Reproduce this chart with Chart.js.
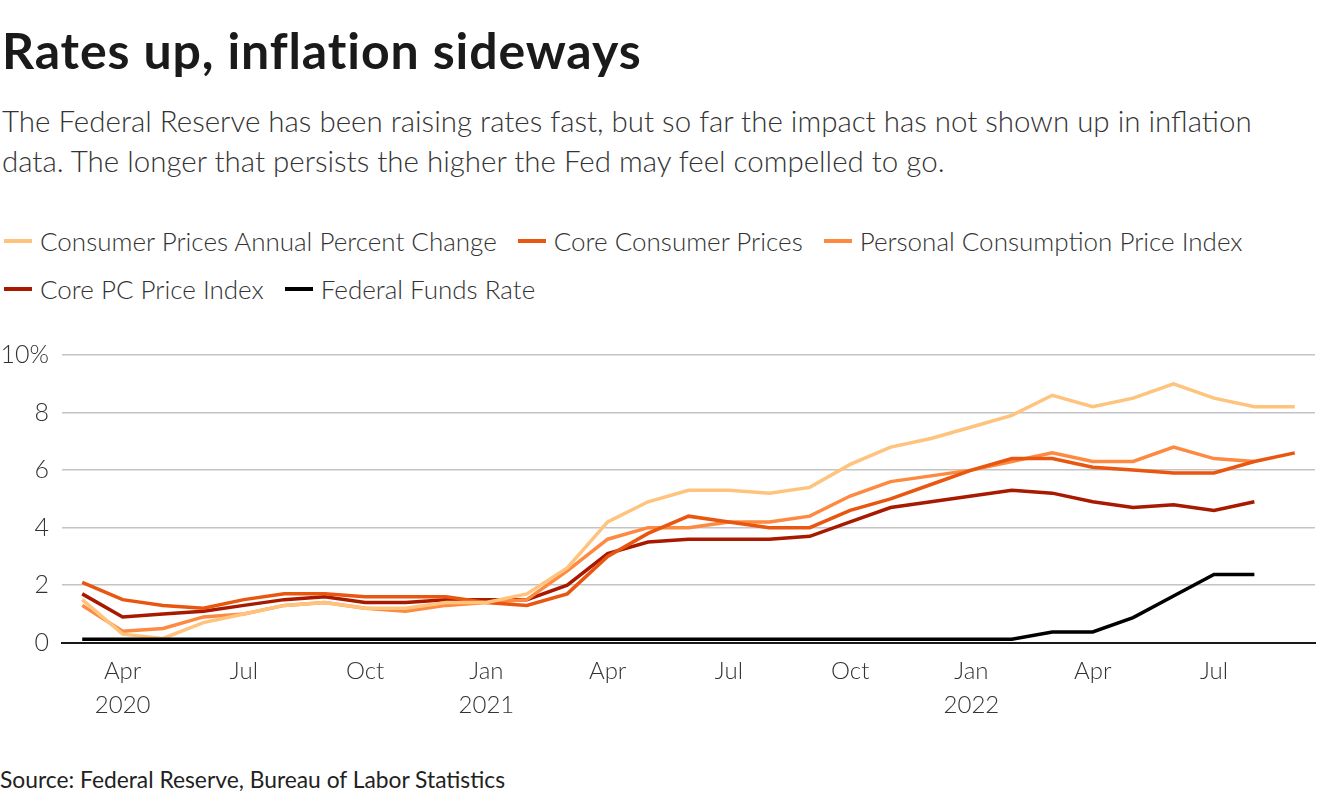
<!DOCTYPE html>
<html>
<head>
<meta charset="utf-8">
<script src="https://cdn.jsdelivr.net/npm/chart.js@4"></script>
<style>
  body { margin: 0; width: 1320px; height: 800px; background: #fff; font-family: Lato, "Open Sans", sans-serif; color: #222; position: relative; overflow: hidden; }
  #title { position: absolute; left: 2px; top: 20px; font-size: 50px; letter-spacing: 0.9px; font-weight: 700; color: #1a1a1a; line-height: 60px; }
  #sub { position: absolute; left: 2px; top: 101px; font-size: 29.5px; font-weight: 300; color: #333; line-height: 40px; }
  #legend { position: absolute; left: 0; top: 217px; font-size: 26px; font-weight: 300; color: #333; }
  .row { height: 48px; display: flex; align-items: center; }
  .item { display: flex; align-items: center; margin-right: 17px; }
  .mark { width: 28px; height: 4px; margin: 0 8px 0 4px; }
  #source { position: absolute; left: 0; top: 765px; font-size: 22.8px; color: #222; }
  #wrap { position: absolute; left: 0; top: 327px; width: 1320px; height: 407px; }
</style>
</head>
<body>
<div id="title">Rates up, inflation sideways</div>
<div id="sub">The Federal Reserve has been raising rates fast, but so far the impact has not shown up in inflation<br>data. The longer that persists the higher the Fed may feel compelled to go.</div>
<div id="legend"></div>
<div id="wrap"><canvas id="myChart"></canvas></div>
<div id="source">Source: Federal Reserve, Bureau of Labor Statistics</div>
<script>
// months Mar 2020 .. Sep 2022
const months = ['Mar 2020','Apr 2020','May 2020','Jun 2020','Jul 2020','Aug 2020','Sep 2020','Oct 2020','Nov 2020','Dec 2020',
  'Jan 2021','Feb 2021','Mar 2021','Apr 2021','May 2021','Jun 2021','Jul 2021','Aug 2021','Sep 2021','Oct 2021','Nov 2021','Dec 2021',
  'Jan 2022','Feb 2022','Mar 2022','Apr 2022','May 2022','Jun 2022','Jul 2022','Aug 2022','Sep 2022'];

const cpi = [1.5,0.3,0.15,0.7,1.0,1.3,1.4,1.2,1.2,1.4, 1.4,1.7,2.6,4.2,4.9,5.3,5.3,5.2,5.4,6.2,6.8,7.1, 7.5,7.9,8.6,8.2,8.5,9.0,8.5,8.2,8.2];
const coreCpi = [2.1,1.5,1.3,1.2,1.5,1.7,1.7,1.6,1.6,1.6, 1.4,1.3,1.7,3.0,3.8,4.4,4.2,4.0,4.0,4.6,5.0,5.5, 6.0,6.4,6.4,6.1,6.0,5.9,5.9,6.3,6.6];
const pce = [1.3,0.4,0.5,0.9,1.0,1.3,1.4,1.2,1.1,1.3, 1.4,1.5,2.5,3.6,4.0,4.0,4.2,4.2,4.4,5.1,5.6,5.8, 6.0,6.3,6.6,6.3,6.3,6.8,6.4,6.3,null];
const corePce = [1.7,0.9,1.0,1.1,1.3,1.5,1.6,1.4,1.4,1.5, 1.5,1.5,2.0,3.1,3.5,3.6,3.6,3.6,3.7,4.2,4.7,4.9, 5.1,5.3,5.2,4.9,4.7,4.8,4.6,4.9,null];
const fedFunds = [0.125,0.125,0.125,0.125,0.125,0.125,0.125,0.125,0.125,0.125, 0.125,0.125,0.125,0.125,0.125,0.125,0.125,0.125,0.125,0.125,0.125,0.125, 0.125,0.125,0.375,0.375,0.875,1.625,2.375,2.375,null];

const seriesNames = ['Consumer Prices Annual Percent Change','Core Consumer Prices','Personal Consumption Price Index','Core PC Price Index','Federal Funds Rate'];
const seriesColors = ['#fec47e','#e8560f','#fd8a40','#a81a00','#000000'];
const seriesData = [cpi, coreCpi, pce, corePce, fedFunds];
const yTicks = [0,2,4,6,8,10];

// legend in two rows like the original
const legend = document.getElementById('legend');
[[0,1,2],[3,4]].forEach(rowIdx => {
    const row = document.createElement('div');
    row.className = 'row';
    rowIdx.forEach(i => {
        const item = document.createElement('div');
        item.className = 'item';
        item.innerHTML = '<span class="mark" style="background:' + seriesColors[i] + '"></span>' + seriesNames[i];
        row.appendChild(item);
    });
    legend.appendChild(row);
});

const datasets = seriesData.map((d, i) => ({
    label: seriesNames[i],
    data: d,
    borderColor: seriesColors[i],
    backgroundColor: seriesColors[i],
    borderWidth: 3.5,
    pointRadius: 0,
    tension: 0,
    fill: false
}));
// draw fed funds on top
datasets[4].order = -1;

const config = {
    type: 'line',
    data: { labels: months, datasets: datasets },
    options: {
        responsive: true,
        maintainAspectRatio: false,
        animation: false,
        layout: { padding: { left: 2, right: 5, top: 6, bottom: 0 } },
        plugins: { legend: { display: false }, tooltip: { enabled: false } },
        scales: {
            x: {
                offset: true,
                grid: { display: false, drawTicks: false },
                border: { display: true, color: '#1a1a1a', width: 2 },
                ticks: {
                    autoSkip: false,
                    maxRotation: 0,
                    padding: 12,
                    color: '#333',
                    font: { family: 'Lato', size: 24, weight: 300, lineHeight: 1.4 },
                    callback: function (value) {
                        const parts = months[value].split(' ');
                        const m = parts[0];
                        if (m === 'Apr' && parts[1] === '2020') return ['Apr', '2020'];
                        if (m === 'Jan') return ['Jan', parts[1]];
                        if (m === 'Apr' || m === 'Jul' || m === 'Oct') return m;
                        return null;
                    }
                }
            },
            y: {
                min: 0,
                max: 10,
                afterBuildTicks: (axis) => { axis.ticks = yTicks.map(v => ({ value: v })); },
                afterFit: (axis) => { axis.width = 60; },
                grid: { color: '#c4c4c4', lineWidth: 1.5, drawTicks: false },
                border: { display: false },
                ticks: {
                    padding: 13,
                    color: '#333',
                    font: { family: 'Lato', size: 25, weight: 300 },
                    callback: (v) => v === 10 ? '10%' : v
                }
            }
        }
    }
};

new Chart(document.getElementById('myChart'), config);
</script>
</body>
</html>
